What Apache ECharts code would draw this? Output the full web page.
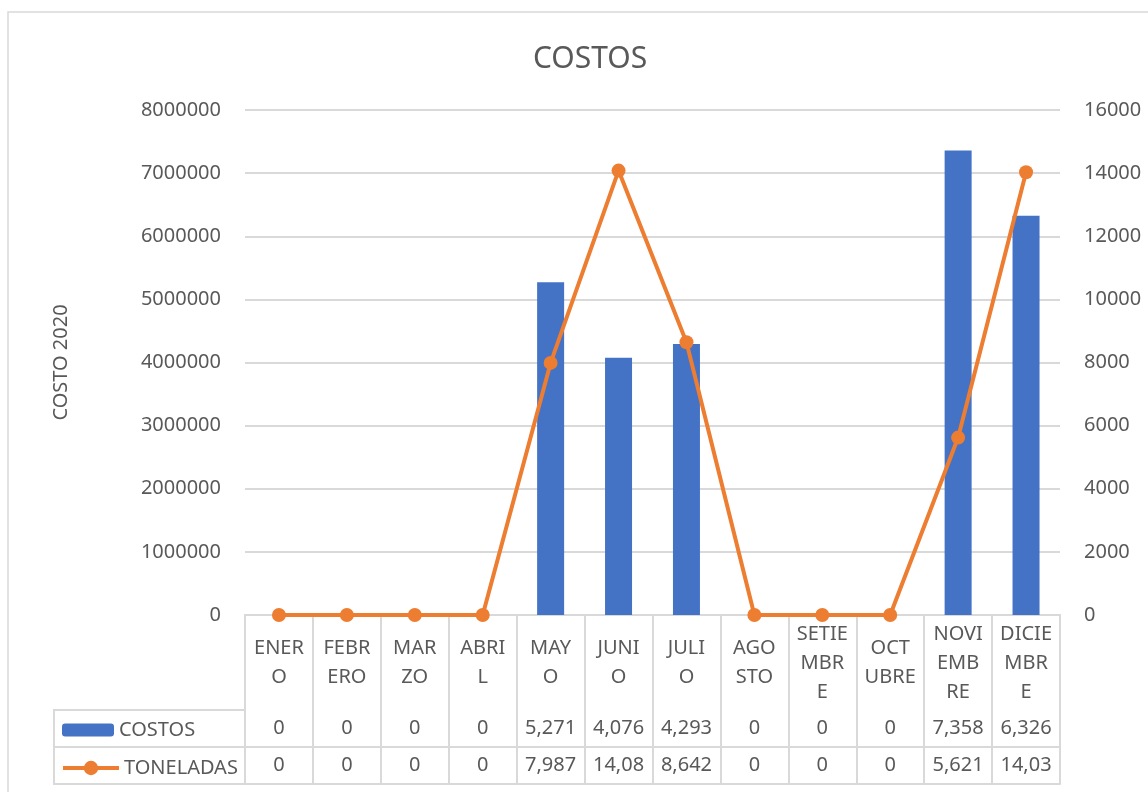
<!DOCTYPE html>
<html>
<head>
<meta charset="utf-8">
<script src="https://cdn.jsdelivr.net/npm/echarts@6/dist/echarts.min.js"></script>
<style>
  html, body { margin: 0; padding: 0; background: #fff; }
  #chart { width: 1148px; height: 792px; }
</style>
</head>
<body>
<div id="chart"></div>
<script>
var months = ['ENERO', 'FEBRERO', 'MARZO', 'ABRIL', 'MAYO', 'JUNIO', 'JULIO', 'AGOSTO', 'SETIEMBRE', 'OCTUBRE', 'NOVIEMBRE', 'DICIEMBRE'];
// how Excel wraps the names inside the narrow table cells
var monthLabels = ['ENER\nO', 'FEBR\nERO', 'MAR\nZO', 'ABRI\nL', 'MAY\nO', 'JUNI\nO', 'JULI\nO', 'AGO\nSTO', 'SETIE\nMBR\nE', 'OCT\nUBRE', 'NOVI\nEMB\nRE', 'DICIE\nMBR\nE'];
var costos = [0, 0, 0, 0, 5271000, 4076000, 4293000, 0, 0, 0, 7358000, 6326000];
var toneladas = [0, 0, 0, 0, 7987, 14080, 8642, 0, 0, 0, 5621, 14030];

var gray = '#595959';
var lineGray = '#d9d9d9';
var font = 'Noto Sans';

// cells are too narrow, Excel clips the text
function cell(v) {
  return v.toLocaleString('en-US').slice(0, 5);
}

var myChart = echarts.init(document.getElementById('chart'));

var legendText = { fontSize: 20, color: gray, fontFamily: font };

var option = {
  animation: false,
  textStyle: { fontFamily: font, color: gray },
  title: {
    text: 'COSTOS',
    left: 585,
    textAlign: 'center',
    top: 39,
    textStyle: { fontSize: 30, fontWeight: 'normal', color: gray, fontFamily: font }
  },
  legend: [
    {
      data: ['COSTOS'],
      left: 62,
      top: 720,
      padding: 0,
      itemWidth: 52,
      itemHeight: 13,
      itemGap: 4,
      textStyle: legendText
    },
    {
      data: ['TONELADAS'],
      left: 61,
      top: 758,
      padding: 0,
      itemWidth: 56,
      itemHeight: 18,
      itemGap: 4,
      lineStyle: { width: 4 },
      textStyle: legendText
    }
  ],
  grid: {
    left: 245,
    right: 88,
    top: 110,
    bottom: 177
  },
  graphic: [
    {
      type: 'rect',
      shape: { x: 8, y: 12, width: 1200, height: 900 },
      style: { fill: 'none', stroke: lineGray, lineWidth: 1.5 },
      silent: true
    },
    {
      type: 'polyline',
      shape: { points: [[245, 710], [54, 710], [54, 784], [245, 784]] },
      style: { fill: 'none', stroke: lineGray, lineWidth: 2 },
      silent: true
    },
    {
      type: 'line',
      shape: { x1: 54, y1: 747, x2: 245, y2: 747 },
      style: { stroke: lineGray, lineWidth: 2 },
      silent: true
    }
  ],
  xAxis: [
    {
      type: 'category',
      data: months,
      position: 'bottom',
      axisLine: { lineStyle: { color: lineGray, width: 2 } },
      axisTick: { show: true, length: 169, lineStyle: { color: lineGray, width: 2 } },
      axisLabel: {
        interval: 0,
        formatter: function (v, i) { return monthLabels[i]; },
        margin: 48,
        verticalAlign: 'middle',
        lineHeight: 29,
        fontSize: 20,
        color: gray,
        fontFamily: font
      }
    },
    {
      type: 'category',
      data: months,
      position: 'bottom',
      offset: 95,
      axisLine: { lineStyle: { color: lineGray, width: 2 } },
      axisTick: { show: false },
      axisLabel: {
        interval: 0,
        formatter: function (v, i) { return cell(costos[i]); },
        margin: 18,
        verticalAlign: 'middle',
        fontSize: 20,
        color: gray,
        fontFamily: font
      }
    },
    {
      type: 'category',
      data: months,
      position: 'bottom',
      offset: 132,
      axisLine: { lineStyle: { color: lineGray, width: 2 } },
      axisTick: { show: false },
      axisLabel: {
        interval: 0,
        formatter: function (v, i) { return cell(toneladas[i]); },
        margin: 18,
        verticalAlign: 'middle',
        fontSize: 20,
        color: gray,
        fontFamily: font
      }
    },
    {
      type: 'category',
      data: months,
      position: 'bottom',
      offset: 169,
      axisLine: { lineStyle: { color: lineGray, width: 2 } },
      axisTick: { show: false },
      axisLabel: { show: false }
    }
  ],
  yAxis: [
    {
      type: 'value',
      min: 0,
      max: 8000000,
      interval: 1000000,
      name: 'COSTO 2020',
      nameLocation: 'middle',
      nameRotate: 90,
      nameGap: 174,
      nameTextStyle: { fontSize: 20, color: gray, fontFamily: font },
      axisLine: { show: false },
      axisTick: { show: false },
      axisLabel: {
        margin: 24, fontSize: 20, color: gray, fontFamily: font,
        formatter: function (v) { return String(v); }
      },
      splitLine: { lineStyle: { color: lineGray, width: 2 } }
    },
    {
      type: 'value',
      min: 0,
      max: 16000,
      interval: 2000,
      position: 'right',
      axisLine: { show: false },
      axisTick: { show: false },
      axisLabel: {
        margin: 24, fontSize: 20, color: gray, fontFamily: font,
        formatter: function (v) { return String(v); }
      },
      splitLine: { show: false }
    }
  ],
  series: [
    {
      name: 'COSTOS',
      type: 'bar',
      xAxisIndex: 0,
      yAxisIndex: 0,
      barWidth: 27,
      itemStyle: { color: '#4472C4' },
      data: costos
    },
    {
      name: 'TONELADAS',
      type: 'line',
      xAxisIndex: 0,
      yAxisIndex: 1,
      symbol: 'circle',
      symbolSize: 14,
      lineStyle: { color: '#ED7D31', width: 4 },
      itemStyle: { color: '#ED7D31' },
      data: toneladas
    }
  ]
};

myChart.setOption(option);
</script>
</body>
</html>
